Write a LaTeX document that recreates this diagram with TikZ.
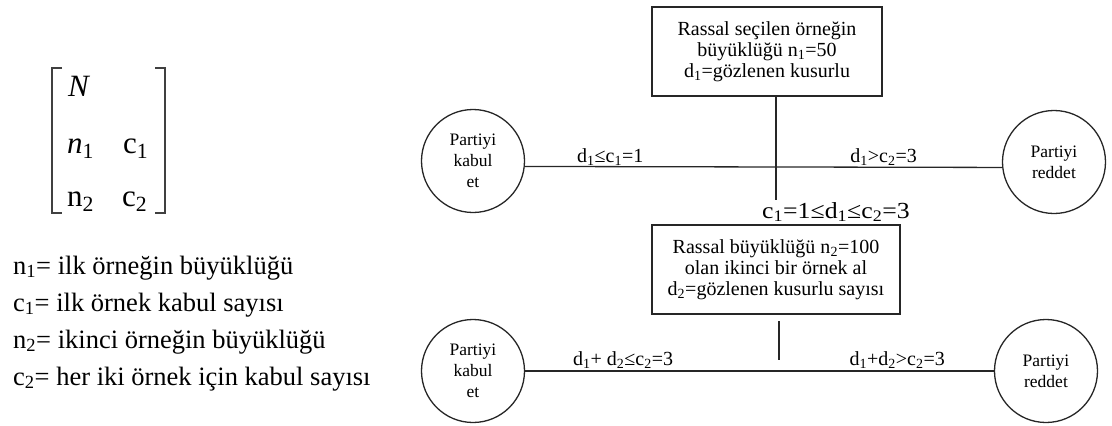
\documentclass[tikz,border=0pt]{standalone}
\usepackage{fontspec}
\setmainfont{Liberation Serif}
\usepackage{graphicx}
\newcommand{\sbs}[1]{\textsubscript{#1}}
\tikzset{
  ln/.style={line width=1.3pt, draw=black!85},
  boxnode/.style={draw=black!85, line width=1.3pt, align=center, inner sep=0pt,
    font=\fontsize{20}{21}\selectfont},
  circnode/.style={draw=black!85, line width=1.3pt, circle, minimum size=103pt, inner sep=0pt,
    align=center, font=\fontsize{17.5}{21}\selectfont},
  lbl/.style={inner sep=0pt, font=\fontsize{20}{22}\selectfont},
  defn/.style={inner sep=0pt, anchor=base west, font=\fontsize{26.5}{30}\selectfont},
  mtx/.style={inner sep=0pt, anchor=base west, font=\fontsize{31}{34}\selectfont},
  brk/.style={line width=1.1pt, draw=black!75}
}
\begin{document}
\begin{tikzpicture}[x=1pt,y=-1pt]
\useasboundingbox (0,0) rectangle (1112,426);
% matrix
\draw[brk] (62,68) -- (52,68) -- (52,213) -- (62,213);
\draw[brk] (155,68) -- (165,68) -- (165,213) -- (155,213);
\node[mtx] (mN) at (68,96) {\textit{N}};
\node[mtx] (mn1) at (67,153) {\textit{n}\sbs{1}};
\node[mtx] (mc1) at (123,153) {c\sbs{1}};
\node[mtx] (mn2) at (67,206) {n\sbs{2}};
\node[mtx] (mc2) at (122,206) {c\sbs{2}};
% definitions
\node[defn] (d1) at (13,274) {n\sbs{1}= ilk örneğin büyüklüğü};
\node[defn] (d2) at (13,311) {c\sbs{1}= ilk örnek kabul sayısı};
\node[defn] (d3) at (13,348) {n\sbs{2}= ikinci örneğin büyüklüğü};
\node[defn] (d4) at (13,385) {c\sbs{2}= her iki örnek için kabul sayısı};
% top stage
\node[boxnode, minimum width=230pt, minimum height=89pt] (b1) at (767,51.5)
  {Rassal seçilen örneğin\\büyüklüğü n\sbs{1}=50\\d\sbs{1}=gözlenen kusurlu};
\node[circnode] (lt) at (473,161) {Partiyi\\kabul\\et};
\node[circnode] (rt) at (1054,162) {Partiyi\\reddet};
\draw[ln] (lt.-6) -- (rt.186);
\coordinate (j1) at (776,200);
\draw[ln] (b1.south -| j1) -- (j1);
\node[lbl, anchor=base west] (l1) at (577,162) {d\sbs{1}≤c\sbs{1}=1};
\node[lbl, anchor=base east] (l2) at (917,162) {d\sbs{1}>c\sbs{2}=3};
\node[inner sep=0pt, anchor=base west, font=\fontsize{23}{25}\selectfont] (l3) at (762,218)
  {\scalebox{1.12}[1]{c\sbs{1}=1≤d\sbs{1}≤c\sbs{2}=3}};
% bottom stage
\node[boxnode, minimum width=248pt, minimum height=89pt] (b2) at (776,269.5)
  {Rassal büyüklüğü n\sbs{2}=100\\olan ikinci bir örnek al\\d\sbs{2}=gözlenen kusurlu sayısı};
\node[circnode] (lb) at (473,371) {Partiyi\\kabul\\et};
\node[circnode] (rb) at (1046,371) {Partiyi\\reddet};
\draw[ln] (lb) -- (rb);
\coordinate (v2a) at (779,321);
\coordinate (v2b) at (779,360);
\draw[ln] (v2a) -- (v2b);
\node[lbl, anchor=base west] (l4) at (573,365) {d\sbs{1}+ d\sbs{2}≤c\sbs{2}=3};
\node[lbl, anchor=base east] (l5) at (945,365) {d\sbs{1}+d\sbs{2}>c\sbs{2}=3};
\end{tikzpicture}
\end{document}
